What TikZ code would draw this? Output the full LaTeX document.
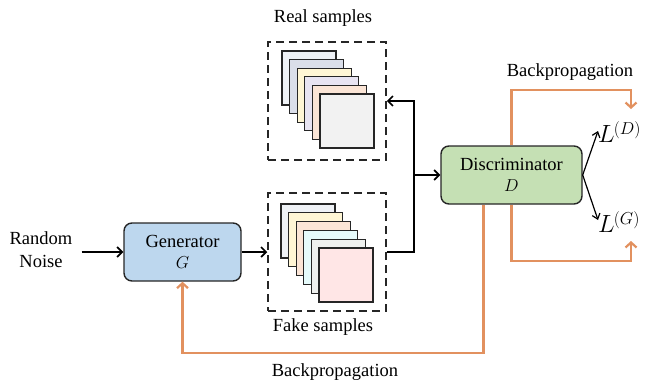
\documentclass[tikz,border=0pt]{standalone}
\usepackage{fontspec}
\setmainfont{Liberation Serif}
\usetikzlibrary{arrows.meta}

\definecolor{genblue}{RGB}{189,215,238}
\definecolor{disgreen}{RGB}{197,224,180}
\definecolor{bporange}{RGB}{226,145,95}
\definecolor{cA}{RGB}{239,242,246}
\definecolor{cB}{RGB}{218,222,233}
\definecolor{cC}{RGB}{255,246,213}
\definecolor{cD}{RGB}{232,228,242}
\definecolor{cE}{RGB}{251,229,214}
\definecolor{cF}{RGB}{242,242,242}
\definecolor{cG}{RGB}{230,251,251}
\definecolor{cH}{RGB}{238,240,238}
\definecolor{cI}{RGB}{255,230,230}

\newcommand{\lossterm}[1]{{\fontsize{23}{23}\selectfont$L$}\kern-1pt\raisebox{8pt}{\fontsize{18}{18}\selectfont$(#1)$}}

\tikzset{
  txt/.style={inner sep=1pt, align=center},
  block/.style={draw=black!85, line width=1.4pt, rounded corners=8pt, align=center},
  group/.style={draw=black!85, line width=1.5pt, dash pattern=on 8pt off 5pt,
    minimum width=118pt, minimum height=118pt, inner sep=0pt},
  sample/.style={draw=black!85, line width=1.3pt, minimum size=54pt, inner sep=0pt},
  flow/.style={draw=black, line width=1.7pt, -{Straight Barb[length=5pt,width=10pt]}},
  thin flow/.style={draw=black, line width=1.2pt, -{Straight Barb[length=5pt,width=8pt]}},
  backprop/.style={draw=bporange, line width=2.2pt, -{Straight Barb[length=5pt,width=11pt]}},
}

\begin{document}
\begin{tikzpicture}[x=1pt, y=-1pt, font=\fontsize{18.5}{23}\selectfont]
\useasboundingbox (0,0) rectangle (647,383);

% real sample stack
\node[group] (real) at (327,101) {};
\foreach \c [count=\i from 0] in {cA,cB,cC,cD,cE,cF}
  \node[sample, fill=\c] (r\i) at ({309+7.6*\i},{78+8.6*\i}) {};
\node[txt] (reallbl) at (323,18) {Real samples};

% fake sample stack
\node[group] (fake) at (327,252) {};
\foreach \c [count=\i from 0] in {cA,cC,cE,cG,cH,cI}
  \node[sample, fill=\c] (f\i) at ({308+7.6*\i},{231+8.8*\i}) {};
\node[txt] (fakelbl) at (323,327) {Fake samples};

% generator and discriminator
\node[block, fill=genblue, minimum width=117pt, minimum height=58pt] (G) at (182.5,252) {Generator\\[-2pt]$G$};
\node[block, fill=disgreen, minimum width=141pt, minimum height=58pt] (D) at (511.5,175) {Discriminator\\[-2pt]$D$};

\node[txt] (noise) at (41,250) {Random\\Noise};

% losses
\node[inner sep=0pt, anchor=west] (LD) at (598,132) {\lossterm{D}};
\node[inner sep=0pt, anchor=west] (LG) at (598,222) {\lossterm{G}};

% forward connections
\draw[flow] ([xshift=8pt]noise.east |- G.west) -- (G.west);
\draw[flow] (G.east) -- (fake.west);
\coordinate (jn) at (414,175);
\draw[flow] (fake.east) -| (jn) |- (real.east);
\draw[flow] (jn) -- (D.west);
\draw[thin flow] (D.east) -- ([shift={(0pt,1pt)}]LD.west);
\draw[thin flow] (D.east) -- ([shift={(0pt,2pt)}]LG.west);

% backpropagation paths
\coordinate (bpD) at (631,109);
\coordinate (bpG) at (631,241);
\draw[backprop] (D.north) -- ++(0,-55) -| (bpD);
\draw[backprop] (D.south) -- ++(0,56) -| (bpG);
\draw[backprop] ([xshift=-28pt]D.south) -- ++(0,148) -| (G.south);

\node[txt] (bptop) at (570,72) {Backpropagation};
\node[txt] (bpbot) at (335,372) {Backpropagation};
\end{tikzpicture}
\end{document}
